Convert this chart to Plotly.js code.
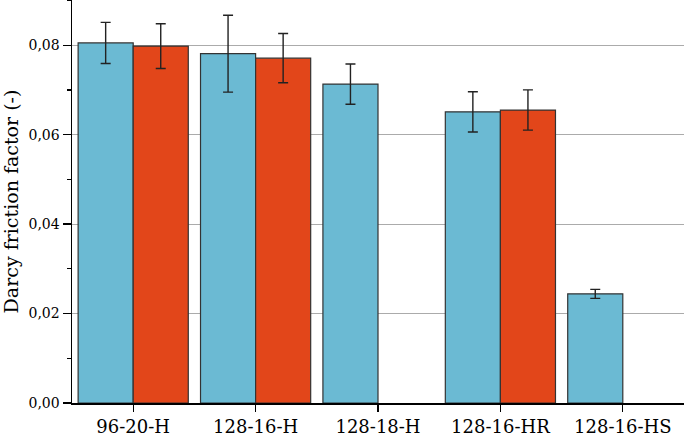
<!DOCTYPE html>
<html>
<head>
<meta charset="utf-8">
<script src="https://cdn.plot.ly/plotly-3.0.1.min.js"></script>
<style>html,body{margin:0;padding:0;background:#fff;}#chart{width:685px;height:438px;}</style>
</head>
<body>
<div id="chart"></div>
<script>
var categories = ["96-20-H", "128-16-H", "128-18-H", "128-16-HR", "128-16-HS"];
var seriesA = [0.0805, 0.0781, 0.0713, 0.0651, 0.0244];
var errorsA = [0.0046, 0.0086, 0.0045, 0.0045, 0.0010];
var seriesB = [0.0798, 0.0771, null, 0.0655, null];
var errorsB = [0.0050, 0.0055, null, 0.0045, null];
var yTicks = [0, 0.02, 0.04, 0.06, 0.08];

var serif = "'Century Schoolbook', 'DejaVu Serif', serif";
var traces = [
  {type: 'bar', x: categories, y: seriesA, name: 'A',
   marker: {color: '#6BBAD3', line: {color: '#333333', width: 1.2}},
   error_y: {type: 'data', array: errorsA, visible: true, color: '#222222', thickness: 1.4, width: 5}},
  {type: 'bar', x: categories, y: seriesB, name: 'B',
   marker: {color: '#E2461A', line: {color: '#333333', width: 1.2}},
   error_y: {type: 'data', array: errorsB, visible: true, color: '#222222', thickness: 1.4, width: 5}}
];
var layout = {
  width: 685, height: 438,
  margin: {l: 72, r: 1, t: 0, b: 35},
  paper_bgcolor: '#ffffff', plot_bgcolor: '#ffffff',
  barmode: 'group', bargap: 0.1, bargroupgap: 0,
  showlegend: false,
  separators: ',.',
  font: {family: serif, color: '#000000'},
  xaxis: {
    type: 'category', range: [-0.5, 4.5],
    showline: true, linecolor: '#000000', linewidth: 1.5,
    ticks: 'outside', ticklen: 7, tickwidth: 1.3, tickcolor: '#000000',
    showgrid: false, zeroline: false,
    tickfont: {family: serif, size: 18, color: '#000000'}
  },
  yaxis: {
    range: [0, 0.0901],
    tickvals: yTicks, tickformat: '.2f',
    showline: true, linecolor: '#000000', linewidth: 1.5,
    ticks: 'outside', ticklen: 8, tickwidth: 1.3, tickcolor: '#000000',
    showgrid: true, gridcolor: '#ababab', gridwidth: 1,
    zeroline: false,
    minor: {dtick: 0.01, tick0: 0, ticks: 'outside', ticklen: 4, tickwidth: 1.3, tickcolor: '#000000', showgrid: false},
    tickfont: {family: serif, size: 14, color: '#000000'},
    title: {text: 'Darcy friction factor (-)', font: {family: serif, size: 19, color: '#000000'}, standoff: 8}
  }
};
Plotly.newPlot('chart', traces, layout, {displayModeBar: false, staticPlot: true});
</script>
</body>
</html>
